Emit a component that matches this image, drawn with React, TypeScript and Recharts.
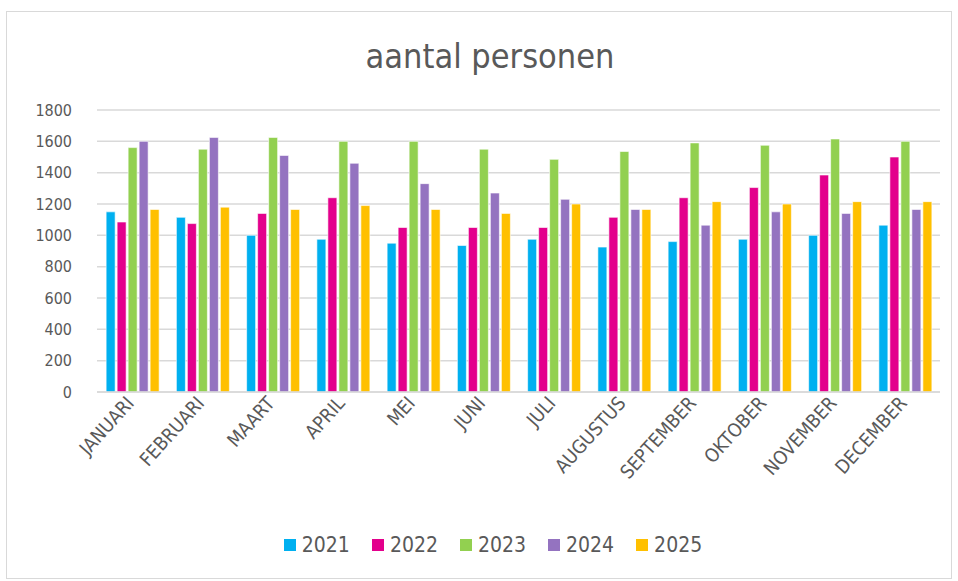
import { BarChart, Bar, XAxis, YAxis, CartesianGrid } from 'recharts';

const FONT = "'DejaVu Sans Condensed', 'DejaVu Sans', sans-serif";
const TEXT = '#595959';

const months = [
  'JANUARI', 'FEBRUARI', 'MAART', 'APRIL', 'MEI', 'JUNI',
  'JULI', 'AUGUSTUS', 'SEPTEMBER', 'OKTOBER', 'NOVEMBER', 'DECEMBER',
];
const years = ['2021', '2022', '2023', '2024', '2025'];
const colors = ['#00B0F0', '#E3008C', '#92D050', '#9473C0', '#FFC000'];
const yTicks = [0, 200, 400, 600, 800, 1000, 1200, 1400, 1600, 1800];

const v2021 = [1150, 1115, 1000, 975, 950, 935, 975, 925, 960, 975, 1000, 1065];
const v2022 = [1085, 1075, 1140, 1240, 1050, 1050, 1050, 1115, 1240, 1305, 1385, 1500];
const v2023 = [1560, 1550, 1625, 1600, 1600, 1550, 1485, 1535, 1590, 1575, 1615, 1600];
const v2024 = [1600, 1625, 1510, 1460, 1330, 1270, 1230, 1165, 1065, 1150, 1140, 1165];
const v2025 = [1165, 1180, 1165, 1190, 1165, 1140, 1200, 1165, 1215, 1200, 1215, 1215];

const series = [v2021, v2022, v2023, v2024, v2025];

const data = months.map((m, i) => {
  const row: { [key: string]: string | number } = { month: m };
  years.forEach((y, s) => {
    row[y] = series[s][i];
  });
  return row;
});

const MonthTick = ({ x, y, payload }: any) => (
  <g transform={`translate(${x + 3},${y + 12})`}>
    <text
      x={0}
      y={0}
      textAnchor="end"
      transform="rotate(-48)"
      fill={TEXT}
      fontSize={19}
      fontFamily={FONT}
    >
      {payload.value}
    </text>
  </g>
);

export default function App() {
  return (
    <div style={{ position: 'absolute', left: 0, top: 0, width: 958, height: 581, background: '#fff' }}>
      <div
        style={{
          position: 'absolute',
          left: 6,
          top: 11,
          width: 944,
          height: 566,
          border: '1px solid #d9d9d9',
        }}
      />
      <div
        style={{
          position: 'absolute',
          left: 0,
          top: 36,
          width: 980,
          textAlign: 'center',
          fontFamily: FONT,
          fontSize: 34,
          color: TEXT,
        }}
      >
        aantal personen
      </div>
      <BarChart
        width={958}
        height={581}
        data={data}
        margin={{ top: 110, right: 18, bottom: 60, left: 0 }}
        barGap={2}
        barCategoryGap="13%"
        style={{ position: 'absolute', left: 0, top: 0 }}
      >
        <CartesianGrid vertical={false} stroke="#d9d9d9" strokeWidth={1.5} />
        <XAxis
          dataKey="month"
          interval={0}
          height={129}
          tickLine={false}
          tickSize={0}
          tickMargin={0}
          axisLine={{ stroke: '#d9d9d9', strokeWidth: 1.5 }}
          tick={<MonthTick />}
        />
        <YAxis
          domain={[0, 1800]}
          ticks={yTicks}
          width={97}
          axisLine={false}
          tickLine={false}
          tickSize={0}
          tickMargin={25}
          tick={{ fill: TEXT, fontSize: 16, fontFamily: FONT }}
        />
        {years.map((y, i) => (
          <Bar
            key={y}
            dataKey={y}
            fill={colors[i]}
            stroke="#ffffff"
            strokeWidth={0.6}
            isAnimationActive={false}
          />
        ))}
      </BarChart>
      <div
        style={{
          position: 'absolute',
          left: 0,
          top: 533,
          width: 1008,
          display: 'flex',
          justifyContent: 'center',
          fontFamily: FONT,
        }}
      >
        {years.map((y, i) => (
          <div key={y} style={{ display: 'flex', alignItems: 'center', marginRight: 22 }}>
            <span
              style={{ width: 12, height: 12, background: colors[i], display: 'inline-block', marginRight: 6 }}
            />
            <span style={{ fontSize: 21, color: TEXT }}>{y}</span>
          </div>
        ))}
      </div>
    </div>
  );
}
